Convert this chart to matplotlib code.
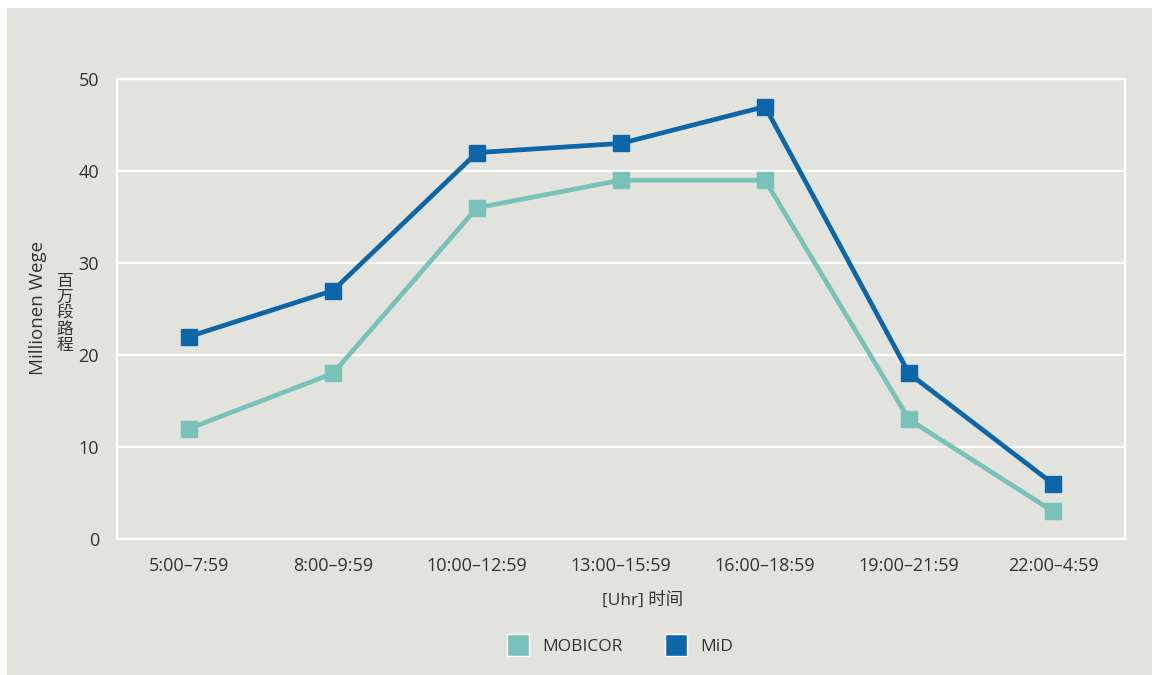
import matplotlib
matplotlib.use("Agg")
import matplotlib.pyplot as plt
from matplotlib.lines import Line2D
from matplotlib.patches import Rectangle

categories = ["5:00–7:59", "8:00–9:59", "10:00–12:59", "13:00–15:59",
              "16:00–18:59", "19:00–21:59", "22:00–4:59"]
mobicor = [12, 18, 36, 39, 39, 13, 3]
mid = [22, 27, 42, 43, 47, 18, 6]
yticks = [0, 10, 20, 30, 40, 50]

plt.rcParams['font.family'] = ['Open Sans', 'Noto Sans CJK SC', 'DejaVu Sans']
BG = "#e3e3de"
C_MOB = "#79c2b9"
C_MID = "#0c66a8"
TXT = "#333333"

fig = plt.figure(figsize=(11.52, 6.75), dpi=100)
fig.patch.set_facecolor("white")
fig.patches.append(Rectangle((7/1152, 0), 1 - 7/1152, (675-8)/675,
                             transform=fig.transFigure, facecolor=BG,
                             edgecolor="none", zorder=-10))

ax = fig.add_axes([117/1152, (675-539)/675, (1125-117)/1152, (539-79)/675])
ax.set_facecolor(BG)
x = list(range(len(categories)))
ax.plot(x, mobicor, color=C_MOB, lw=3.4, marker='s', ms=11.5, zorder=3, clip_on=False)
ax.plot(x, mid, color=C_MID, lw=3.4, marker='s', ms=11.5, zorder=4, clip_on=False)

ax.set_xlim(-0.5, len(categories) - 0.5)
ax.set_ylim(0, 50)
ax.set_yticks(yticks)
ax.set_xticks(x)
ax.set_xticklabels(categories)
ax.grid(axis='y', color='white', lw=1.6)
ax.set_axisbelow(True)
for s in ax.spines.values():
    s.set_color('white')
    s.set_linewidth(1.6)
ax.tick_params(length=0, labelsize=13, colors=TXT)
ax.tick_params(axis='y', pad=13)
ax.tick_params(axis='x', pad=13)

fig.text(38/1152, 1 - 308/675, "Millionen Wege", rotation=90, ha='center',
         va='center', fontsize=13.5, color=TXT)
fig.text(65/1152, 1 - 314/675, "百\n万\n段\n路\n程", ha='center', va='center',
         fontsize=12, color=TXT, linespacing=1.0)

fig.text(643/1152, 1 - 600/675, "[Uhr] 时间", ha='center', va='center',
         fontsize=12.5, color=TXT)

handles = [Line2D([], [], ls='none', marker='s', ms=16, mfc=C_MOB, mec='white', mew=1),
           Line2D([], [], ls='none', marker='s', ms=16, mfc=C_MID, mec='white', mew=1)]
leg = fig.legend(handles, ["MOBICOR", "MiD"], loc='center', ncol=2,
                 bbox_to_anchor=(621/1152, 1 - 647/675), frameon=False,
                 fontsize=12.5, handletextpad=0.9, columnspacing=2.6,
                 handlelength=1.0)
for t in leg.get_texts():
    t.set_color(TXT)

fig.savefig("out.png", dpi=100, facecolor=fig.get_facecolor())
